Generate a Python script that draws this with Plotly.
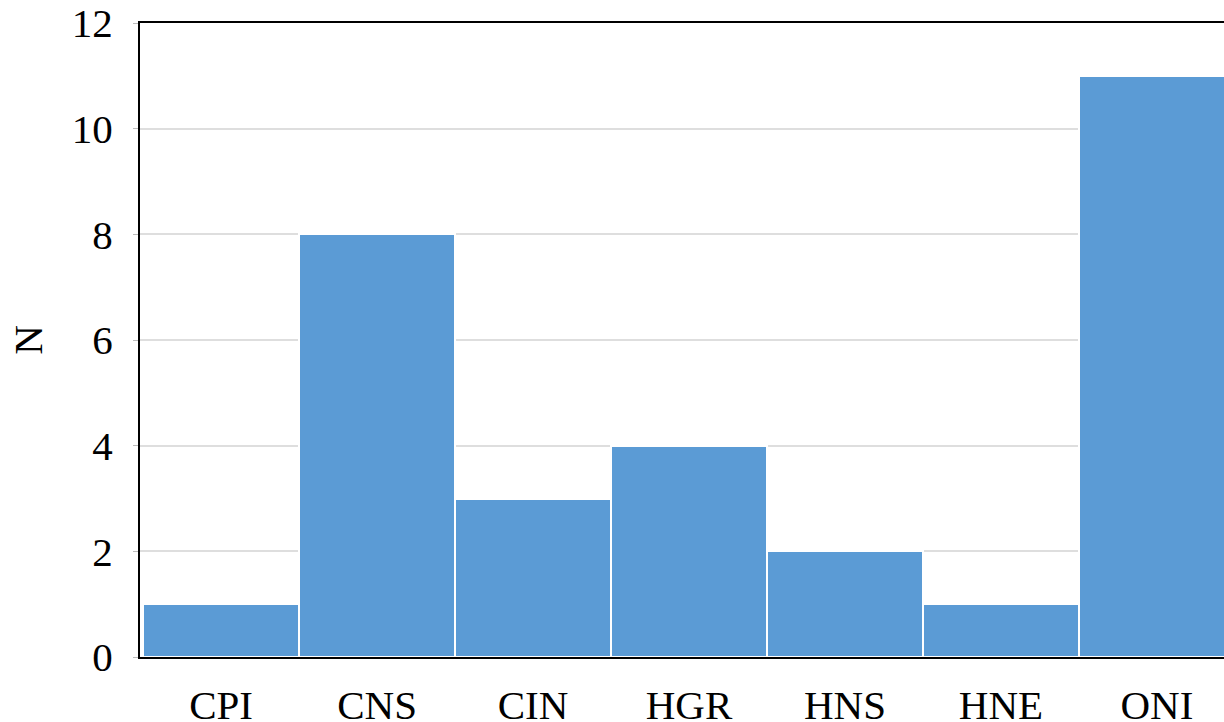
import plotly.graph_objects as go

categories = ["CPI", "CNS", "CIN", "HGR", "HNS", "HNE", "ONI"]
counts = [1, 8, 3, 4, 2, 1, 11]
y_ticks = [0, 2, 4, 6, 8, 10, 12]

font_family = "Liberation Serif, Times New Roman, serif"

fig = go.Figure(
    go.Bar(
        x=categories,
        y=counts,
        marker=dict(color="#5B9BD5", line=dict(color="white", width=2)),
        width=1.0,
    )
)

fig.update_layout(
    width=1224,
    height=722,
    margin=dict(l=140, r=0, t=23, b=65),
    plot_bgcolor="white",
    paper_bgcolor="white",
    bargap=0,
    showlegend=False,
    font=dict(family=font_family, color="black", size=41),
)

fig.update_xaxes(
    range=[-0.52, 6.43],
    showline=True,
    linecolor="black",
    linewidth=2,
    mirror=True,
    showgrid=False,
    ticks="",
    tickfont=dict(size=41, family=font_family),
    ticklabelstandoff=11,
    automargin=False,
    ticklabeloverflow="allow",
)

fig.update_yaxes(
    range=[0, 12],
    tickvals=y_ticks,
    showline=True,
    linecolor="black",
    linewidth=2,
    showgrid=True,
    gridcolor="#dedede",
    gridwidth=2,
    ticks="outside",
    ticklen=5,
    tickcolor="#bbbbbb",
    tickfont=dict(size=41, family=font_family),
    ticklabelstandoff=12,
    zeroline=False,
    automargin=False,
    ticklabeloverflow="allow",
    title=dict(text="N", font=dict(size=41, family=font_family), standoff=16),
)

fig.write_html(
    "out.html",
    config={"displayModeBar": False},
    post_script="document.body.style.margin='0';document.body.style.overflow='hidden';",
)
